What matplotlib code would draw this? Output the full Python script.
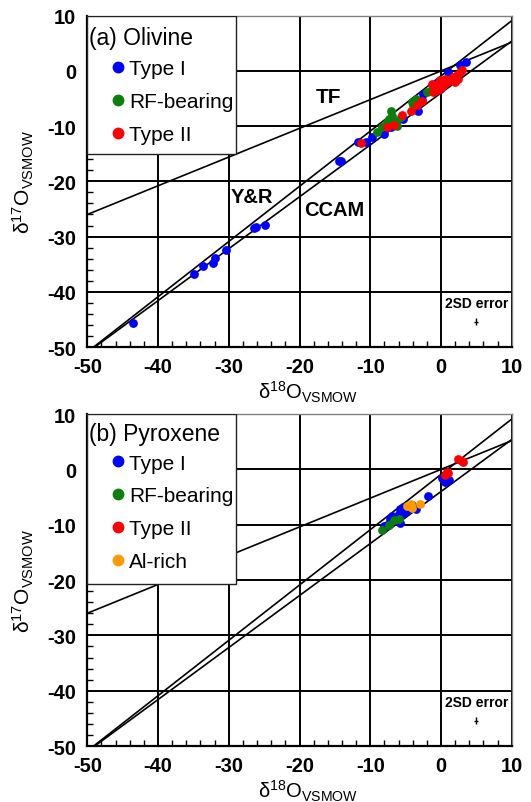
import matplotlib
matplotlib.use("Agg")
import matplotlib.pyplot as plt
from matplotlib.lines import Line2D
from matplotlib.patches import Rectangle
import numpy as np

plt.rcParams['font.family'] = ['Liberation Sans', 'DejaVu Sans']
plt.rcParams['mathtext.fontset'] = 'custom'
plt.rcParams['mathtext.rm'] = 'Liberation Sans'
plt.rcParams['mathtext.default'] = 'regular'
plt.rcParams['axes.unicode_minus'] = False

# ---------------- data: (a) Olivine ----------------
ol_type1_x = [-43.5, -34.9, -33.6, -32.3, -32.0, -30.4, -26.5, -26.2, -24.9, -14.4, -14.1,
              -11.8, -10.6, -9.7, -8.0, -7.0, -5.3, -3.2, -2.7, -2.5, -0.6, -0.1, 1.0, 2.7, 3.6]
ol_type1_y = [-45.6, -36.8, -35.4, -34.8, -33.8, -32.4, -28.5, -28.3, -27.9, -16.4, -16.4,
              -12.9, -12.9, -12.0, -11.4, -10.2, -8.7, -7.2, -5.3, -4.1, -2.1, -3.2, -0.2, 1.0, 1.6]
ol_rf_x = [-9.0, -8.3, -7.6, -7.1, -6.9, -7.3, -6.7, -6.4, -7.8, -6.2, -5.7, -4.1, -3.6, -3.9, -2.0, -1.3]
ol_rf_y = [-11.1, -10.2, -9.3, -7.2, -8.1, -8.7, -9.6, -9.0, -9.9, -9.9, -8.4, -5.6, -5.0, -6.2, -3.8, -3.2]
ol_type2_x = [-11.3, -7.6, -6.7, -5.5, -4.2, -3.4, -2.7, -1.3, -0.8, -0.6, -0.1, 0.3, 0.8, 1.3,
              1.7, 2.2, 2.7, 2.4, 2.0, 2.9, -1.1, -0.4, 0.1, 0.6]
ol_type2_y = [-13.0, -10.2, -9.8, -7.9, -7.3, -6.2, -5.5, -2.3, -3.2, -2.6, -1.7, -2.6, -2.0, -1.7,
              -1.1, -0.8, -0.2, -1.4, -2.0, 0.1, -3.8, -3.5, -2.9, -1.4]

# ---------------- data: (b) Pyroxene ----------------
px_type1_x = [0.4, 0.8, 1.1, 0.1, 0.6, -1.8, -3.6, -4.6, -5.3, -5.8, -6.0, -6.9, -7.2, -5.8, -7.6, -5.3, -4.1, -6.7, -8.0]
px_type1_y = [-2.0, -1.8, -2.0, -1.6, -2.3, -4.8, -7.1, -7.4, -6.8, -7.1, -8.0, -8.4, -9.0, -9.6, -10.0, -8.0, -6.5, -9.1, -10.3]
px_rf_x = [-8.4, -7.4, -6.6, -6.0]
px_rf_y = [-10.9, -10.0, -9.2, -9.0]
px_type2_x = [2.4, 2.9, 3.1, 0.8, 1.0, 0.6]
px_type2_y = [1.8, 1.6, 1.4, -0.4, -0.7, -1.0]
px_alrich_x = [-4.8, -4.3, -4.1, -2.9]
px_alrich_y = [-6.6, -6.3, -6.9, -6.3]

# reference lines: name, slope, intercept
ref_names = ['TF', 'Y&R', 'CCAM']
ref_slopes = [0.52, 1.0, 0.94]
ref_intercepts = [0.0, -0.9, -4.0]

err_x, err_y = 5.0, -45.4
err_dx, err_dy = 0.3, 0.6

xticks = [-50, -40, -30, -20, -10, 0, 10]
yticks = [-50, -40, -30, -20, -10, 0, 10]

colors = {'Type I': '#0000ff', 'RF-bearing': '#0b7f0b', 'Type II': '#ff0000', 'Al-rich': '#ff9900'}

fig = plt.figure(figsize=(5.31, 8.03), dpi=100)
ax1 = fig.add_axes([0.1644, 0.5666, 0.7993, 0.4126])
ax2 = fig.add_axes([0.1644, 0.0697, 0.7993, 0.4134])


def style_axes(ax):
    ax.set_xlim(-50, 10)
    ax.set_ylim(-50, 10)
    ax.set_xticks(xticks)
    ax.set_yticks(yticks)
    ax.set_xticks(np.arange(-50, 11, 2), minor=True)
    ax.set_yticks(np.arange(-50, 11, 2), minor=True)
    ax.tick_params(which='major', direction='in', length=0, labelsize=14.5)
    ax.tick_params(axis='y', which='major', pad=8)
    ax.tick_params(axis='x', which='major', pad=7)
    ax.tick_params(which='minor', direction='in', length=4, width=1, color='black')
    for lab in ax.get_xticklabels() + ax.get_yticklabels():
        lab.set_fontweight('bold')
    ax.grid(True, which='major', color='black', linewidth=1.4)
    ax.set_axisbelow(True)
    for s in ['left', 'bottom']:
        ax.spines[s].set_linewidth(1.6)
        ax.spines[s].set_color('black')
    for s in ['top', 'right']:
        ax.spines[s].set_linewidth(1.0)
        ax.spines[s].set_color('#808080')
    ax.set_xlabel('δ$^{18}$O$_{VSMOW}$', fontsize=14.5)
    ax.set_ylabel('δ$^{17}$O$_{VSMOW}$', fontsize=15)
    ax.xaxis.set_label_coords(0.52, -0.097)
    ax.yaxis.set_label_coords(-0.122, 0.5)
    # reference lines
    for name, m, b in zip(ref_names, ref_slopes, ref_intercepts):
        x0 = max(-50, (-50 - b) / m)
        xs = np.array([x0, 10])
        ax.plot(xs, m * xs + b, color='black', lw=1.2, zorder=2)
    # error bar
    ax.errorbar([err_x], [err_y], xerr=[err_dx], yerr=[err_dy], fmt='none',
                ecolor='black', elinewidth=1, capsize=0, zorder=3)
    ax.text(err_x, -42.0, '2SD error', fontsize=10, fontweight='bold',
            ha='center', va='center')


def add_legend(ax, title, labels, box_bottom, title_y, anchor_y):
    ax.add_patch(Rectangle((-50, box_bottom), 21, 10 - box_bottom, facecolor='white',
                           edgecolor='#222222', lw=1.0, zorder=5))
    ax.text(0.004, title_y, title, transform=ax.transAxes, fontsize=16.5,
            ha='left', va='center', zorder=6)
    handles = [Line2D([], [], marker='o', ls='', color=colors[l], markersize=7.5) for l in labels]
    leg = ax.legend(handles, labels, loc='upper left', bbox_to_anchor=(0.0605, anchor_y),
                    frameon=False, fontsize=15, handlelength=0.5, handletextpad=0.28,
                    labelspacing=0.66, borderpad=0, borderaxespad=0)
    leg.set_zorder(7)


ms = 40
# (a) Olivine
style_axes(ax1)
ax1.scatter(ol_type1_x, ol_type1_y, s=ms, color=colors['Type I'], zorder=4, linewidths=0)
ax1.scatter(ol_rf_x, ol_rf_y, s=ms, color=colors['RF-bearing'], zorder=4, linewidths=0)
ax1.scatter(ol_type2_x, ol_type2_y, s=ms, color=colors['Type II'], zorder=4, linewidths=0)
ax1.text(-15.9, -4.6, 'TF', fontsize=15, fontweight='bold', ha='center', va='center')
ax1.text(-26.7, -22.8, 'Y&R', fontsize=14.5, fontweight='bold', ha='center', va='center')
ax1.text(-15.1, -25.1, 'CCAM', fontsize=14.5, fontweight='bold', ha='center', va='center')
add_legend(ax1, '(a) Olivine', ['Type I', 'RF-bearing', 'Type II'], -15.0, 0.934, 0.868)

# (b) Pyroxene
style_axes(ax2)
ax2.scatter(px_type1_x, px_type1_y, s=ms, color=colors['Type I'], zorder=4, linewidths=0)
ax2.scatter(px_rf_x, px_rf_y, s=ms, color=colors['RF-bearing'], zorder=4, linewidths=0)
ax2.scatter(px_type2_x, px_type2_y, s=ms, color=colors['Type II'], zorder=4, linewidths=0)
ax2.scatter(px_alrich_x, px_alrich_y, s=ms, color=colors['Al-rich'], zorder=4, linewidths=0)
add_legend(ax2, '(b) Pyroxene', ['Type I', 'RF-bearing', 'Type II', 'Al-rich'], -20.7, 0.942, 0.881)

fig.savefig('out.png', dpi=100)
